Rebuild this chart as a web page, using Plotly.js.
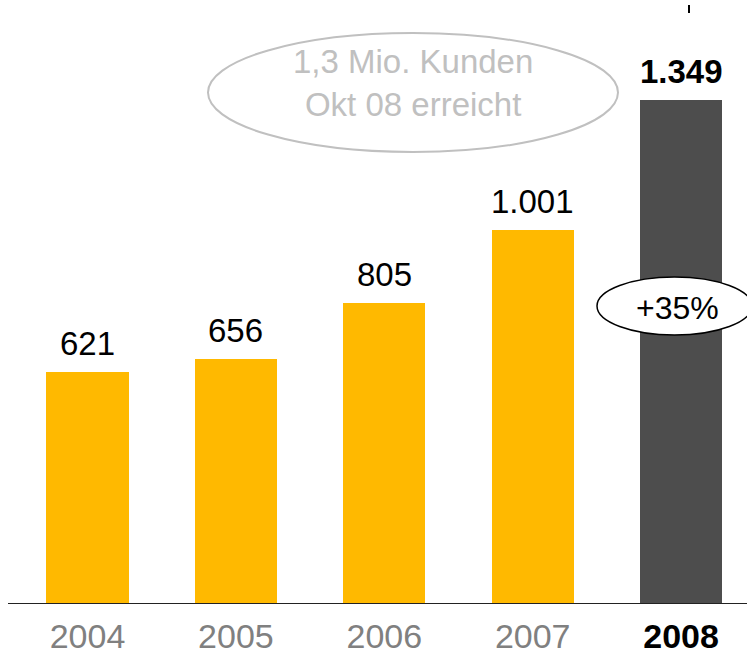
<!DOCTYPE html>
<html>
<head>
<meta charset="utf-8">
<script src="https://cdn.plot.ly/plotly-3.0.1.min.js"></script>
<style>html,body{margin:0;padding:0;background:#fff;}#chart{width:747px;height:658px;}</style>
</head>
<body>
<div id="chart"></div>
<script>
const years = ["2004", "2005", "2006", "2007", "2008"];
const customers = [621, 656, 805, 1001, 1349];
const valueLabels = ["621", "656", "805", "1.001", "1.349"];
const noteText = "1,3 Mio. Kunden<br>Okt 08 erreicht";
const growthText = "+35%";

const W = 747, H = 658, plotH = 604;
const FONT = "Liberation Sans, Arial, Helvetica, sans-serif";
const xs = years.map((_, i) => i);
const last = years.length - 1;
const colors = xs.map(i => i === last ? "#4d4d4d" : "#ffb900");

const px = v => v / W;              // pixel x -> paper x
const py = v => 1 - v / plotH;      // pixel y -> paper y

const annotations = xs.map(i => ({
  x: i, y: customers[i], xref: "x", yref: "y",
  text: i === last ? "<b>" + valueLabels[i] + "</b>" : valueLabels[i],
  showarrow: false, xanchor: "center", yanchor: "bottom", yshift: 8,
  font: {family: FONT, size: 33, color: "#000"}
}));
annotations.push({
  xref: "paper", yref: "paper", x: px(413), y: py(83),
  xanchor: "center", yanchor: "middle",
  text: noteText, showarrow: false, align: "center",
  font: {family: FONT, size: 33, color: "#c0c0c0"}
});
annotations.push({
  xref: "paper", yref: "paper", x: px(677), y: py(308),
  xanchor: "center", yanchor: "middle",
  text: growthText, showarrow: false,
  font: {family: FONT, size: 32, color: "#000"}
});

const tickText = years.map((y, i) => i === last ? "<b>" + y + "</b>" : y);

const layout = {
  width: W, height: H,
  margin: {l: 0, r: 0, t: 0, b: H - plotH, pad: 0},
  paper_bgcolor: "#fff", plot_bgcolor: "#fff",
  showlegend: false,
  bargap: 0,
  xaxis: {
    range: [-87.5 / 148.4, (W - 87.5) / 148.4],
    tickvals: xs, ticktext: tickText,
    tickfont: {family: FONT, size: 34, color: "#808080"},
    ticklabelstandoff: 9,
    showgrid: false, zeroline: false, showline: false, ticks: "",
    fixedrange: true
  },
  yaxis: {
    range: [0, plotH / 0.3736],
    visible: false, showgrid: false, zeroline: false, fixedrange: true
  },
  shapes: [
    {type: "line", xref: "paper", yref: "y", x0: px(8), x1: 1, y0: 0, y1: 0,
     line: {color: "#222", width: 2}},
    {type: "circle", xref: "paper", yref: "paper",
     x0: px(208), x1: px(618), y0: py(152), y1: py(33),
     line: {color: "#c0c0c0", width: 2}},
    {type: "circle", xref: "paper", yref: "paper",
     x0: px(597), x1: px(752), y0: py(335), y1: py(277),
     fillcolor: "#fff", line: {color: "#000", width: 1.5}},
    {type: "line", xref: "paper", yref: "paper",
     x0: px(689), x1: px(689), y0: py(5), y1: py(13),
     line: {color: "#000", width: 2}}
  ],
  annotations: annotations
};

Plotly.newPlot("chart", [{
  type: "bar", x: xs, y: customers, width: 0.553,
  marker: {color: colors, line: {width: 0}},
  hoverinfo: "none"
}], layout, {displayModeBar: false, staticPlot: true}).then(() => {
  // colour the last tick label black
  const ticks = document.querySelectorAll(".xtick text");
  if (ticks.length) ticks[ticks.length - 1].style.fill = "#000";
});
</script>
</body>
</html>
